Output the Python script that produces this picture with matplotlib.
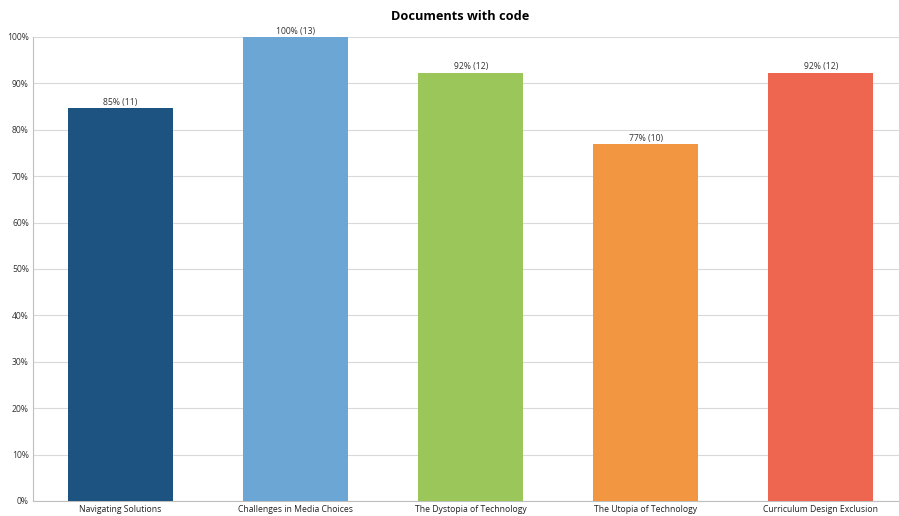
import matplotlib
matplotlib.use("Agg")
import matplotlib.pyplot as plt

categories = ["Navigating Solutions", "Challenges in Media Choices", "The Dystopia of Technology",
              "The Utopia of Technology", "Curriculum Design Exclusion"]
counts = [11, 13, 12, 10, 12]
total = 13
percents = [c / total * 100 for c in counts]
colors = ["#1d5380", "#6ca6d5", "#9bc65a", "#f39641", "#ee6550"]
yticks = list(range(0, 101, 10))

plt.rcParams['font.family'] = ['Open Sans', 'DejaVu Sans']

fig = plt.figure(figsize=(8.99, 5.16), dpi=100)
W, H = 899, 516
left, right, top, bottom = 33, 908.5, 37, 501
ax = fig.add_axes([left / W, 1 - bottom / H, (right - left) / W, (bottom - top) / H])

x = range(len(categories))
ax.bar(x, percents, width=0.6, color=colors, zorder=3)
for xi, p, c in zip(x, percents, counts):
    ax.text(xi, p + 0.3, f"{round(p)}% ({c})", ha="center", va="bottom", fontsize=6.2, color="#333333", zorder=4)

ax.set_xlim(-0.5, 4.5)
ax.set_ylim(0, 100)
ax.set_yticks(yticks)
ax.set_yticklabels([f"{t}%" for t in yticks], fontsize=6.2, color="#333333")
ax.set_xticks(list(x))
ax.set_xticklabels(categories, fontsize=6.2, color="#222222")
ax.tick_params(axis="both", length=0, pad=3)
ax.grid(axis="y", color="#d9d9d9", linewidth=0.8, zorder=0)
for s in ["top", "right"]:
    ax.spines[s].set_visible(False)
for s in ["left", "bottom"]:
    ax.spines[s].set_color("#bfbfbf")
    ax.spines[s].set_linewidth(0.8)

fig.text(460 / W, 1 - 16 / H, "Documents with code", ha="center", va="center", fontsize=9.2, fontweight="bold")

fig.savefig("out.png", dpi=100)
